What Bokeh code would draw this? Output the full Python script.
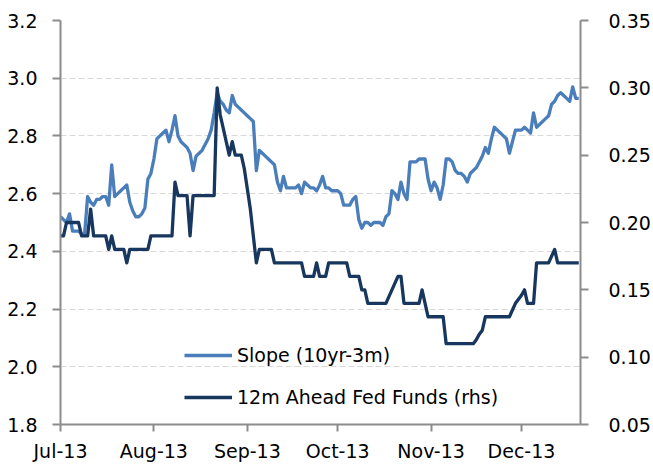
import pandas as pd
from bokeh.plotting import figure
from bokeh.models import (Range1d, LinearAxis, FixedTicker, DatetimeTickFormatter,
                          NumeralTickFormatter, Legend, LegendItem)
from bokeh.embed import file_html
from bokeh.resources import INLINE

# ---- data (daily, from 1 Jul 2013) ----
start_date = "2013-07-01"
slope = [2.52, 2.51, 2.50, 2.53, 2.47, 2.47, 2.47, 2.46, 2.46, 2.59,
         2.57, 2.56, 2.58, 2.58, 2.59, 2.59, 2.56, 2.70, 2.59, 2.60,
         2.61, 2.62, 2.63, 2.57, 2.54, 2.52, 2.52, 2.53, 2.55, 2.65,
         2.67, 2.72, 2.79, 2.80, 2.81, 2.82, 2.78, 2.82, 2.87, 2.80,
         2.78, 2.77, 2.76, 2.74, 2.68, 2.73, 2.74, 2.75, 2.77, 2.79,
         2.82, 2.88, 2.95, 2.92, 2.91, 2.89, 2.88, 2.94, 2.91, 2.90,
         2.89, 2.88, 2.87, 2.86, 2.85, 2.68, 2.75, 2.74, 2.73, 2.72,
         2.71, 2.70, 2.64, 2.61, 2.66, 2.62, 2.62, 2.62, 2.62, 2.63,
         2.60, 2.64, 2.63, 2.62, 2.62, 2.61, 2.63, 2.66, 2.62, 2.62,
         2.61, 2.61, 2.61, 2.60, 2.56, 2.56, 2.56, 2.58, 2.59, 2.51,
         2.48, 2.50, 2.50, 2.49, 2.50, 2.50, 2.50, 2.49, 2.52, 2.53,
         2.61, 2.60, 2.58, 2.64, 2.60, 2.58, 2.71, 2.71, 2.71, 2.72,
         2.72, 2.72, 2.65, 2.61, 2.64, 2.62, 2.58, 2.63, 2.72, 2.72,
         2.71, 2.68, 2.67, 2.67, 2.66, 2.64, 2.67, 2.68, 2.69, 2.71,
         2.73, 2.76, 2.74, 2.79, 2.83, 2.82, 2.81, 2.80, 2.79, 2.74,
         2.78, 2.82, 2.82, 2.82, 2.83, 2.82, 2.81, 2.88, 2.83, 2.84,
         2.85, 2.86, 2.87, 2.91, 2.92, 2.94, 2.95, 2.94, 2.93, 2.92,
         2.97, 2.93, 2.93]

fed_funds = [0.19, 0.19, 0.20, 0.20, 0.20, 0.20, 0.20, 0.19, 0.19, 0.19,
             0.21, 0.19, 0.19, 0.19, 0.19, 0.19, 0.18, 0.19, 0.18, 0.18,
             0.18, 0.18, 0.17, 0.18, 0.18, 0.18, 0.18, 0.18, 0.18, 0.18,
             0.19, 0.19, 0.19, 0.19, 0.19, 0.19, 0.19, 0.19, 0.23, 0.22,
             0.22, 0.22, 0.22, 0.19, 0.22, 0.22, 0.22, 0.22, 0.22, 0.22,
             0.22, 0.22, 0.30, 0.28, 0.27, 0.26, 0.25, 0.26, 0.25, 0.25,
             0.25, 0.24, 0.225, 0.21, 0.19, 0.17, 0.18, 0.18, 0.18, 0.18,
             0.18, 0.17, 0.17, 0.17, 0.17, 0.17, 0.17, 0.17, 0.17, 0.17,
             0.17, 0.16, 0.16, 0.16, 0.16, 0.17, 0.16, 0.16, 0.16, 0.17,
             0.17, 0.17, 0.17, 0.17, 0.17, 0.17, 0.16, 0.16, 0.16, 0.16,
             0.15, 0.15, 0.14, 0.14, 0.14, 0.14, 0.14, 0.14, 0.14, 0.145,
             0.15, 0.155, 0.16, 0.16, 0.14, 0.14, 0.14, 0.14, 0.14, 0.14,
             0.15, 0.14, 0.13, 0.13, 0.13, 0.13, 0.13, 0.13, 0.11, 0.11,
             0.11, 0.11, 0.11, 0.11, 0.11, 0.11, 0.11, 0.11, 0.113, 0.117,
             0.12, 0.13, 0.13, 0.13, 0.13, 0.13, 0.13, 0.13, 0.13, 0.13,
             0.135, 0.14, 0.143, 0.146, 0.15, 0.14, 0.14, 0.14, 0.17, 0.17,
             0.17, 0.17, 0.17, 0.175, 0.18, 0.17, 0.17, 0.17, 0.17, 0.17,
             0.17, 0.17, 0.17]

month_ticks = ["2013-07-01", "2013-08-01", "2013-09-01", "2013-10-01",
               "2013-11-01", "2013-12-01"]
left_ticks = [1.8, 2.0, 2.2, 2.4, 2.6, 2.8, 3.0, 3.2]
right_ticks = [0.05, 0.10, 0.15, 0.20, 0.25, 0.30, 0.35]
labels = ["Slope (10yr-3m)", "12m Ahead Fed Funds (rhs)"]

dates_slope = pd.date_range(start_date, periods=len(slope), freq="D")
dates_ff = pd.date_range(start_date, periods=len(fed_funds), freq="D")

FONT = "DejaVu Sans"
FS = "19px"
AXIS_COLOR = "#8c8c8c"
LIGHT = "#4A7EBB"
DARK = "#17375E"

p = figure(width=653, height=464, output_backend="svg", toolbar_location=None,
           x_axis_type="datetime",
           x_range=Range1d(pd.Timestamp(start_date), pd.Timestamp("2013-12-20 14:00")),
           y_range=Range1d(left_ticks[0], left_ticks[-1]),
           min_border_left=60, min_border_right=70, min_border_top=20,
           min_border_bottom=38)
p.outline_line_color = None
p.background_fill_color = "white"
p.border_fill_color = "white"
p.extra_y_ranges = {"rhs": Range1d(right_ticks[0], right_ticks[-1])}

# grid
p.xgrid.visible = False
p.ygrid.grid_line_color = "#d9d9d9"
p.ygrid.grid_line_dash = "6 3"
p.ygrid.grid_line_width = 1

def style_axis(ax, tick_out):
    ax.axis_line_color = AXIS_COLOR
    ax.axis_line_width = 2
    ax.major_tick_line_color = AXIS_COLOR
    ax.major_tick_line_width = 2
    ax.major_tick_out = tick_out
    ax.major_tick_in = 0
    ax.minor_tick_line_color = None
    ax.major_label_text_font = FONT
    ax.major_label_text_font_size = FS
    ax.major_label_text_color = "black"

# left axis
yl = p.yaxis[0]
yl.ticker = FixedTicker(ticks=left_ticks)
yl.formatter = NumeralTickFormatter(format="0.0")
style_axis(yl, 8)
yl.major_label_standoff = 15

# bottom axis
xb = p.xaxis[0]
xb.ticker = FixedTicker(ticks=[pd.Timestamp(d).value // 10**6 for d in month_ticks])
xb.formatter = DatetimeTickFormatter(days="%b-%y", months="%b-%y", years="%b-%y",
                                     hours="%b-%y", minutes="%b-%y")
style_axis(xb, 7)
xb.major_label_standoff = 8

# right axis
yr = LinearAxis(y_range_name="rhs", ticker=FixedTicker(ticks=right_ticks),
                formatter=NumeralTickFormatter(format="0.00"))
style_axis(yr, 8)
yr.major_label_standoff = 20
p.add_layout(yr, "right")

r1 = p.line(dates_slope, slope, line_color=LIGHT, line_width=3.3, line_join="round")
r2 = p.line(dates_ff, fed_funds, line_color=DARK, line_width=3.3, line_join="round",
            y_range_name="rhs")

legend = Legend(items=[LegendItem(label=labels[0], renderers=[r1]),
                       LegendItem(label=labels[1], renderers=[r2])],
                location=(124, 16))
legend.background_fill_alpha = 0
legend.border_line_alpha = 0
legend.padding = 0
legend.margin = 0
legend.spacing = 20
legend.glyph_width = 48
legend.glyph_height = 22
legend.label_height = 22
legend.label_standoff = 5
legend.label_text_font = FONT
legend.label_text_font_size = FS
legend.label_text_color = "black"
p.add_layout(legend)

open("out.html", "w").write(file_html(p, INLINE))
